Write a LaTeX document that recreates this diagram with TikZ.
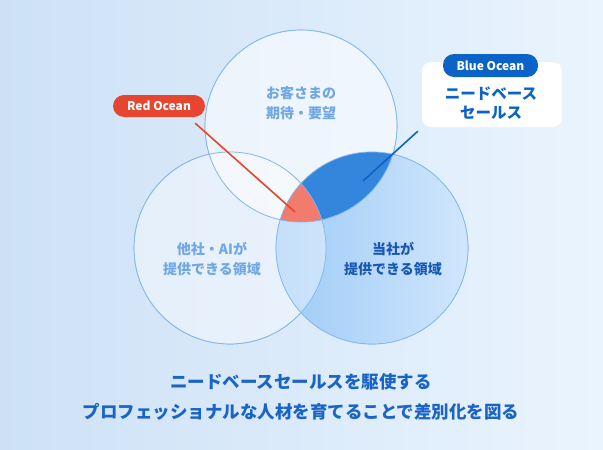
\documentclass[tikz,border=0pt]{standalone}
\usepackage{fontspec}
\setmainfont{Noto Sans CJK JP}
\usepackage{tikz}
\usetikzlibrary{positioning, calc}
\definecolor{bgleft}{RGB}{205, 225, 246}
\definecolor{bgright}{RGB}{234, 244, 254}
\definecolor{ring}{RGB}{128, 182, 237}
\definecolor{ownlow}{RGB}{158, 203, 247}
\definecolor{ownhigh}{RGB}{208, 230, 252}
\definecolor{deepblue}{RGB}{51, 134, 219}
\definecolor{redfill}{RGB}{242, 123, 110}
\definecolor{redtagc}{RGB}{230, 69, 47}
\definecolor{bluetagc}{RGB}{11, 99, 200}
\definecolor{softtext}{RGB}{112, 167, 228}
\definecolor{darktext}{RGB}{24, 88, 181}
\definecolor{headtext}{RGB}{26, 100, 198}
\tikzstyle{venn} = [circle, draw=ring, line width=0.7pt, minimum size=192pt, inner sep=0pt]
\tikzstyle{tag} = [rectangle, rounded corners=11pt, minimum height=22pt, text=white, font=\fontsize{12}{14}\selectfont\bfseries, inner xsep=0pt]
\tikzstyle{setlabel} = [align=center, font=\fontsize{14}{20}\selectfont\bfseries]
\tikzstyle{pointer} = [line width=1.6pt]

\begin{document}
\begin{tikzpicture}[x=1pt, y=-1pt]
    % Background
    \useasboundingbox (0,0) rectangle (603,450);
    \shade[shading angle=60, left color=bgleft, right color=bgright] (0,0) rectangle (603,450);

    % Sets
    \node[venn] (others) at (230,248) {};
    \node[venn] (ours) at (372,248) {};
    \node[venn] (needs) at (301,126) {};

    % Fills
    \shade[shading angle=45, left color=ownlow, right color=ownhigh] (ours.center) circle[radius=96pt];
    \fill[white, opacity=0.4] (others.center) circle[radius=96pt];
    \fill[white, opacity=0.55] (needs.center) circle[radius=96pt];
    \begin{scope}
        \clip (needs.center) circle[radius=96pt];
        \fill[deepblue] (ours.center) circle[radius=96pt];
        \clip (others.center) circle[radius=96pt];
        \fill[redfill] (ours.center) circle[radius=96pt];
    \end{scope}
    \foreach \s in {others, ours, needs}
        \draw[ring, line width=0.7pt] (\s.center) circle[radius=96pt];

    % Set labels
    \node[setlabel, text=softtext] (needslabel) at (301,103) {お客さまの\\期待・要望};
    \node[setlabel, text=softtext] (otherslabel) at (212,259) {他社・AIが\\提供できる領域};
    \node[setlabel, text=darktext] (ourslabel) at (393,259) {当社が\\提供できる領域};

    % Red Ocean
    \node[tag, fill=redtagc, minimum width=92pt] (redtag) at (159,106) {Red Ocean};
    \coordinate (redpt) at (295,212);
    \draw[pointer, redtagc] ([xshift=-10pt, yshift=-6pt]redtag.south east) -- (redpt);

    % Blue Ocean
    \node[rectangle, rounded corners=9pt, fill=white, minimum width=140pt, minimum height=65pt] (bluebox) at (492,94.5) {};
    \node[tag, fill=bluetagc, minimum width=95pt, minimum height=23pt] (bluetag) at (490.5,65.5) {Blue Ocean};
    \node[align=center, text=bluetagc, font=\fontsize{15.5}{19}\selectfont\bfseries] (bluetext) at (491,103) {ニードベース\\セールス};
    \coordinate (bluept) at (363,181);
    \draw[pointer, bluetagc] ([xshift=-4pt, yshift=-4pt]bluebox.south west) -- (bluept);

    % Message
    \node[align=center, text=headtext, font=\fontsize{17.5}{30}\selectfont\bfseries] (message) at (301,397) {ニードベースセールスを駆使する\\プロフェッショナルな人材を育てることで差別化を図る};
\end{tikzpicture}
\end{document}
